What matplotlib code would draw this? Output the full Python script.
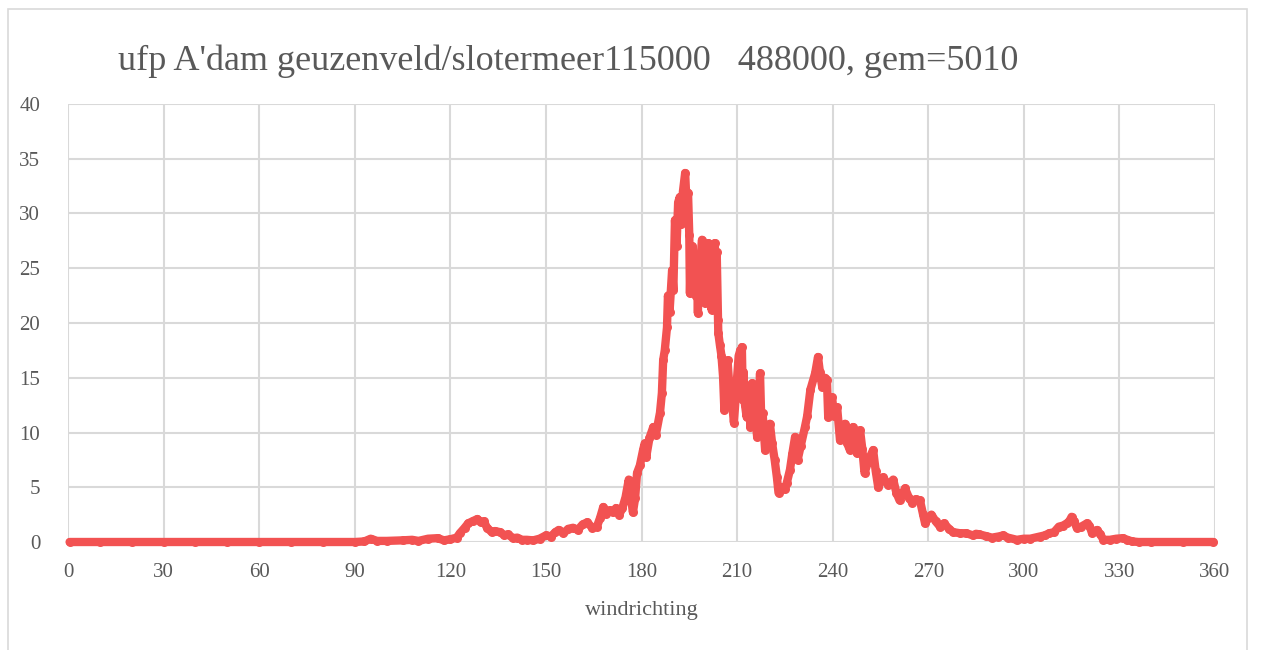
import matplotlib.pyplot as plt
from matplotlib.patches import Rectangle

# ufp per windrichting ------------------------------------------------------------------------------------------------
windrichting = [0.5, 10, 20, 30, 40, 50, 60, 70, 80, 90, 93, 95, 97, 100, 105, 108, 110, 113, 116, 118,
                120, 122, 123, 124.5, 125.6, 127, 128.5, 129.5, 130.5, 131.5, 133, 134, 135.6, 137, 138, 139.7,
                141, 142.5, 144, 146, 148, 150, 151.5, 153, 154, 155.5, 157, 158.5, 160, 161.5, 163, 164.5,
                166, 167, 168, 169, 170, 171, 172, 173, 174, 175, 176, 176.5, 177.3, 178, 178.6, 179.5, 180.5,
                181, 181.5, 182.5, 183.7, 184.5, 185.8, 186.4, 186.8, 187.3, 188, 188.3, 188.8, 189.6, 190,
                190.5, 191, 191.5, 192, 192.5, 193, 193.7, 194.2, 194.6, 195, 195.2, 195.5, 195.8, 196, 196.3,
                196.6, 197, 197.3, 197.7, 198, 198.3, 198.7, 199, 199.3, 199.6, 200, 200.3, 200.6, 201, 201.3,
                201.6, 202, 202.3, 202.6, 203, 203.3, 203.6, 204, 204.1, 204.6,
                205.1, 205.6, 206, 206.5, 207, 207.5, 208, 208.5, 209, 209.5, 210, 210.5, 211, 211.3, 211.5,
                211.8, 212, 212.5, 213, 213.8, 214.2, 214.7, 215.1, 215.5, 216.3, 216.8, 217.2, 217.6, 218,
                218.8, 219.5, 220.3, 221, 221.8, 222.5,
                223, 224, 225, 225.6, 226.6, 227.3, 228.2, 229, 230, 231.3, 232, 233, 234.5, 235.4, 236,
                236.7, 237.5, 238.2, 238.6, 239.2, 239.8, 240.5, 241.4, 242.3, 243.1, 243.9, 244.6, 245.4,
                246.4, 247.6, 248.6, 249.3, 250, 251.3, 252.7, 253.5, 254.3, 255.8, 257.5, 259, 260, 261,
                262.7, 264, 265, 266, 267.4, 268.3, 269, 270, 271, 272.3, 273.7, 275, 276.5, 277.8, 280,
                282, 284, 285, 286, 288, 290, 292, 293.5, 295, 297.8, 300, 302, 305, 306.5, 308, 309.5, 311,
                312.3, 313.5, 314.3, 315, 315.8, 316.6, 318, 319.8, 320.6, 321.4, 322.2, 323, 324, 325, 327,
                329, 331, 332.5, 334, 336, 340, 350, 359.5]
ufp = [0, 0, 0, 0, 0, 0, 0, 0, 0, 0, 0.05, 0.3, 0.1, 0.1, 0.15, 0.2, 0.1, 0.3, 0.35, 0.15,
       0.25, 0.4, 0.8, 1.3, 1.7, 1.9, 2.1, 1.8, 1.9, 1.3, 0.9, 1.0, 0.9, 0.6, 0.7, 0.35,
       0.4, 0.2, 0.2, 0.15, 0.3, 0.6, 0.5, 0.9, 1.1, 0.8, 1.2, 1.3, 1.1, 1.6, 1.8, 1.3,
       1.4, 2.2, 3.2, 2.6, 2.9, 2.7, 3.1, 2.5, 3.1, 4.1, 5.7, 4.5, 2.7, 4.0, 6.3, 7.0, 8.4,
       9.0, 7.8, 9.5, 10.5, 9.8, 11.8, 13.6, 16.6, 17.5, 19.6, 22.5, 21.0, 24.8, 23.0,
       29.4, 27.0, 31.0, 31.5, 29.0, 32.0, 33.7, 30.5, 31.9, 28.0, 22.7, 26.5, 23.5, 27.0, 23.0,
       26.0, 22.5, 25.5, 20.9, 24.5, 22.0, 26.5, 27.6, 22.5, 25.5, 21.8, 25.0, 22.5, 27.3, 23.0,
       26.0, 21.2, 24.5, 22.5, 27.3, 22.0, 26.5, 20.3, 19.1, 18.0,
       17.0, 15.1, 12.1, 14.0, 16.6, 14.5, 13.0, 12.5, 10.9, 13.0, 15.0, 17.0, 17.5, 13.5, 17.8,
       13.0, 15.5, 12.5, 11.4, 13.5, 10.5, 14.5, 11.0, 12.0, 9.6, 12.5, 15.4, 11.0, 11.8,
       8.4, 10.5, 10.8, 9.0, 7.5, 5.9,
       4.5, 5.0, 4.8, 5.4, 6.6, 8.0, 9.6, 7.5, 8.8, 10.5, 11.5, 13.9, 15.4, 16.9, 15.5,
       14.2, 15.0, 14.8, 11.4, 12.8, 13.2, 11.5, 12.3, 9.3, 10.5, 10.8, 9.0, 8.4,
       10.5, 8.1, 10.2, 8.5, 6.3, 7.5, 8.4, 6.5, 5.0, 5.9, 5.2, 5.7, 4.5, 3.8,
       4.9, 4.0, 3.6, 3.9, 3.8, 2.6, 1.7, 2.2, 2.5, 1.9, 1.4, 1.7, 1.2, 0.9, 0.8,
       0.8, 0.6, 0.75, 0.7, 0.55, 0.4, 0.5, 0.6, 0.4, 0.2, 0.3, 0.3, 0.5, 0.6, 0.8, 0.9, 1.4,
       1.5, 1.7, 1.9, 2.3, 1.9, 1.3, 1.4, 1.7, 1.5, 0.8, 1.0, 1.1, 0.7, 0.2, 0.2,
       0.3, 0.35, 0.2, 0.05, 0, 0, 0, 0]

x_ticks = list(range(0, 361, 30))
y_ticks = list(range(0, 41, 5))

grey = "#595959"
grid_grey = "#d9d9d9"
red = "#f25252"

plt.rcParams["font.family"] = ["Liberation Serif", "DejaVu Serif"]

fig = plt.figure(figsize=(12.62, 6.5), dpi=100)
ax = fig.add_axes([68 / 1262, 108 / 650, (1215 - 68) / 1262, (542 - 104) / 650])

# chart frame
fig.patches.append(Rectangle((8 / 1262, -0.1), (1247 - 8) / 1262, 1.1 - 9 / 650, transform=fig.transFigure,
                             fill=False, edgecolor=grid_grey, linewidth=1.2))

ax.plot(windrichting, ufp, color=red, linewidth=6, marker="o", markersize=6.5, markeredgewidth=0,
        solid_capstyle="round", solid_joinstyle="round", zorder=3, clip_on=False)

ax.set_xlim(0, 360)
ax.set_ylim(0, 40)
ax.set_xticks(x_ticks)
ax.set_yticks(y_ticks)
ax.grid(True, color=grid_grey, linewidth=1.5)
ax.set_axisbelow(True)
for s in ax.spines.values():
    s.set_visible(False)
ax.tick_params(length=0, labelsize=15, labelcolor=grey, pad=15)
ax.tick_params(axis="y", pad=20)

ax.set_xlabel("windrichting", fontsize=16, color=grey, labelpad=14)
fig.text(568 / 1262, 1 - 61 / 650, "ufp A'dam geuzenveld/slotermeer115000   488000, gem=5010",
         fontsize=26, color=grey, ha="center", va="center")

fig.savefig("out.png", dpi=100)
